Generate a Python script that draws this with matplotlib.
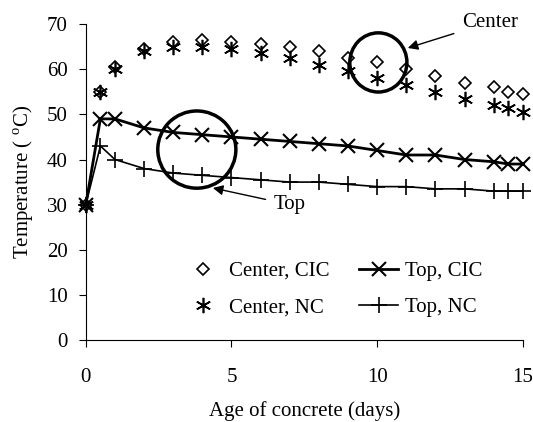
import matplotlib.pyplot as plt
from matplotlib.patches import Ellipse

plt.rcParams['font.family'] = 'Liberation Serif'
plt.rcParams['mathtext.fontset'] = 'custom'
plt.rcParams['mathtext.rm'] = 'Liberation Serif'

days = [0, 0.5, 1, 2, 3, 4, 5, 6, 7, 8, 9, 10, 11, 12, 13, 14, 14.5, 15]
center_cic = [30, 55, 60.5, 64.5, 66, 66.5, 66, 65.5, 65, 64, 62.5, 61.5, 60, 58.5, 57, 56, 55, 54.5]
center_nc = [30, 55, 60, 64, 65, 65, 64.5, 63.5, 62.5, 61, 59.5, 58, 56.5, 55, 53.5, 52, 51.5, 50.5]
top_cic = [30, 49, 49, 47, 46, 45.5, 45, 44.5, 44, 43.5, 43, 42, 41, 41, 40, 39.5, 39, 39]
top_nc = [30, 43, 40, 38, 37, 36.5, 36, 35.5, 35, 35, 34.5, 34, 34, 33.5, 33.5, 33, 33, 33]

fig = plt.figure(figsize=(5.33, 4.22), dpi=100)
ax = fig.add_axes([0.161, 0.194, 0.820, 0.749])

ax.plot(days, center_cic, linestyle='none', marker='D', markersize=6.5, mfc='none',
        mec='black', mew=1.2, label='Center, CIC', clip_on=False)
ax.plot(days, top_cic, color='black', lw=2, marker='x', markersize=10, mew=1.5,
        label='Top, CIC', clip_on=False)
ax.plot(days, center_nc, linestyle='none', marker=(6, 2, 0), markersize=11,
        mec='black', mew=1.2, label='Center, NC', clip_on=False)
ax.plot(days, top_nc, color='black', lw=1.2, marker='+', markersize=11, mew=1.2,
        label='Top, NC', clip_on=False)

# annotation circles
ax.add_patch(Ellipse((10.04, 61.5), 1.96, 13.1, fill=False, lw=2.5, color='black'))
ax.add_patch(Ellipse((3.81, 42.2), 2.68, 17.1, fill=False, lw=2.5, color='black'))
ax.annotate('Center', xy=(11.05, 64.7), xytext=(13.87, 70.4), fontsize=15,
            ha='center', va='center', annotation_clip=False,
            arrowprops=dict(arrowstyle='-|>', color='black', lw=1, shrinkA=4, shrinkB=0))
ax.annotate('Top', xy=(4.36, 33.7), xytext=(7.0, 30.0), fontsize=15,
            ha='center', va='center',
            arrowprops=dict(arrowstyle='-|>', color='black', lw=1, shrinkA=4, shrinkB=0))

ax.set_xlim(0, 15)
ax.set_ylim(0, 70)
ax.set_xticks([0, 5, 10, 15])
ax.set_yticks(range(0, 71, 10))
ax.spines['top'].set_visible(False)
ax.spines['right'].set_visible(False)
ax.tick_params(labelsize=15, length=5)
ax.tick_params(axis='x', pad=15)
ax.tick_params(axis='y', pad=8)
ax.set_xlabel('Age of concrete (days)', fontsize=15, labelpad=10)
ax.set_ylabel('Temperature ( $^{\\mathrm{o}}$C)', fontsize=15, labelpad=8)

handles, labels = ax.get_legend_handles_labels()
order = [0, 2, 1, 3]
ax.legend([handles[i] for i in order], [labels[i] for i in order], ncol=2,
          loc='center', bbox_to_anchor=(0.565, 0.161), frameon=False, fontsize=15,
          columnspacing=1.4, handlelength=1.9, handletextpad=0.3, labelspacing=0.8)

fig.savefig('out.png', dpi=100)
